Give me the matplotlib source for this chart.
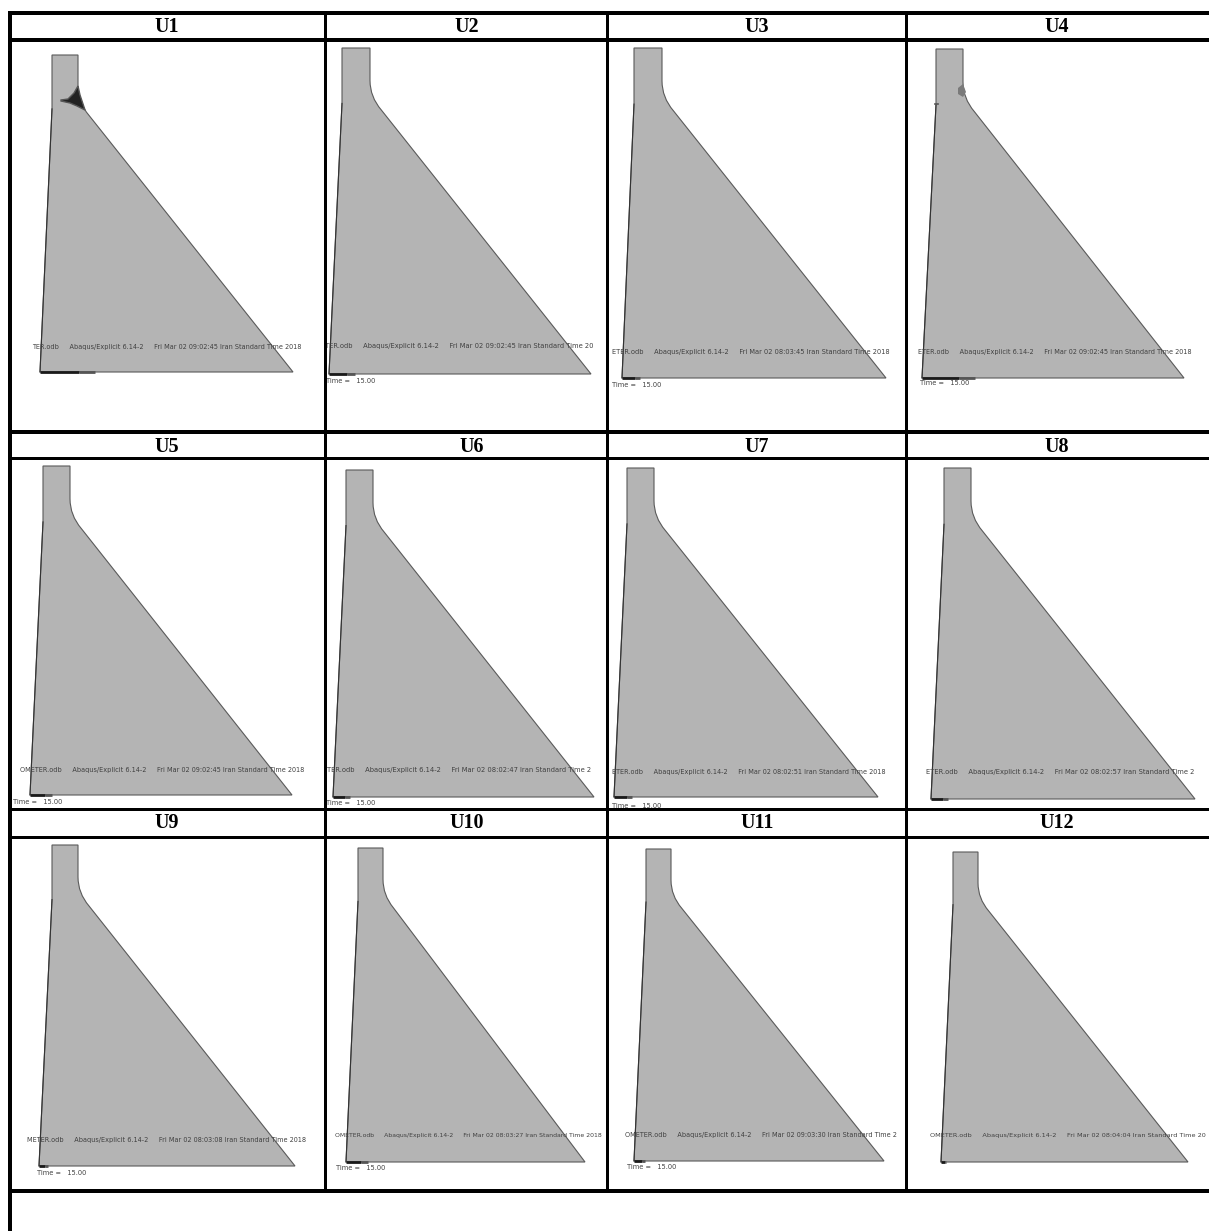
import matplotlib
matplotlib.use("Agg")
import matplotlib.pyplot as plt
from matplotlib.patches import Rectangle
from matplotlib.path import Path
from matplotlib.patches import PathPatch

W, H = 1209, 1231
labels = ["U1","U2","U3","U4","U5","U6","U7","U8","U9","U10","U11","U12"]
label_x = [167,467,757,1057,167,472,757,1057,167,467,757,1057]
label_y = [27,27,27,27,447,447,447,447,823,823,823,823]

crest_left  = [52,342,634,936,43,346,627,944,52,358,646,953]
crest_right = [78,370,662,963,70,373,654,971,78,383,671,978]
crest_y     = [55,48,48,49,466,470,468,468,845,848,849,852]
base_left   = [40,329,622,922,30,333,614,931,39,346,634,941]
base_right  = [293,591,886,1184,292,594,878,1195,295,585,884,1188]
base_y      = [372,374,378,378,795,797,797,799,1166,1162,1161,1162]
base_bar    = [95,355,640,975,52,350,632,948,48,368,645,946]

cell_left  = [12,327,609,908,12,327,609,908,12,327,609,908]
cell_right = [324,606,905,1209,324,606,905,1209,324,606,905,1209]

gap = "     "
stamp = [gap.join(p) for p in [
    ("TER.odb", "Abaqus/Explicit 6.14-2", "Fri Mar 02 09:02:45 Iran Standard Time 2018"),
    ("TER.odb", "Abaqus/Explicit 6.14-2", "Fri Mar 02 09:02:45 Iran Standard Time 20"),
    ("ETER.odb", "Abaqus/Explicit 6.14-2", "Fri Mar 02 08:03:45 Iran Standard Time 2018"),
    ("ETER.odb", "Abaqus/Explicit 6.14-2", "Fri Mar 02 09:02:45 Iran Standard Time 2018"),
    ("OMETER.odb", "Abaqus/Explicit 6.14-2", "Fri Mar 02 09:02:45 Iran Standard Time 2018"),
    ("TER.odb", "Abaqus/Explicit 6.14-2", "Fri Mar 02 08:02:47 Iran Standard Time 2"),
    ("ETER.odb", "Abaqus/Explicit 6.14-2", "Fri Mar 02 08:02:51 Iran Standard Time 2018"),
    ("ETER.odb", "Abaqus/Explicit 6.14-2", "Fri Mar 02 08:02:57 Iran Standard Time 2"),
    ("METER.odb", "Abaqus/Explicit 6.14-2", "Fri Mar 02 08:03:08 Iran Standard Time 2018"),
    ("OMETER.odb", "Abaqus/Explicit 6.14-2", "Fri Mar 02 08:03:27 Iran Standard Time 2018"),
    ("OMETER.odb", "Abaqus/Explicit 6.14-2", "Fri Mar 02 09:03:30 Iran Standard Time 2"),
    ("OMETER.odb", "Abaqus/Explicit 6.14-2", "Fri Mar 02 08:04:04 Iran Standard Time 20"),
]]
stamp_x = [32,325,612,918,20,327,612,926,27,335,625,930]
stamp_y = [347,346,352,352,770,770,772,772,1140,1135,1135,1135]
stamp_size = [4.7,4.9,4.75,4.7,4.7,4.85,4.7,4.9,4.7,4.4,4.7,4.65]

time_text = "Time =   15.00"
time_x = [None,326,612,920,13,326,612,None,37,336,627,None]
time_y = [None,381,385,383,802,803,806,None,1173,1168,1167,None]
time_clip = [None,381,400,384,804,804,808,None,1190,1169,1190,None]

h_rules = [(13,4),(39.5,4),(432,4),(458.5,3),(809,3),(837,3),(1191,4)]
v_rules = [(10,4),(325,3),(607,3),(906,3)]

blob_u1_x = [61,68,74,78,80,85,77,70,61]
blob_u1_y = [100,99,93,86,95,110,106,103,101]
blob_u4_x = [958,963,966,963,958]
blob_u4_y = [88,84,92,97,94]

fig = plt.figure(figsize=(W/100, H/100), dpi=100, facecolor="white")
ax = fig.add_axes([0, 0, 1, 1])
ax.set_xlim(0, W); ax.set_ylim(H, 0); ax.axis("off")

GREY = "#b4b4b4"
EDGE = "#5a5a5a"

for i in range(12):
    cl, cr, top = crest_left[i], crest_right[i], crest_y[i]
    bl, br, by = base_left[i], base_right[i], base_y[i]
    h = by - top; w = br - bl
    neck_y = top + 0.10*h
    knee_x = cr + 0.043*w
    knee_y = top + 0.19*h
    verts = [(cl,top),(cr,top),(cr,neck_y),(cr,top+0.15*h),(knee_x,knee_y),
             (br,by),(bl,by),(cl,top+0.17*h),(cl,top)]
    codes = [Path.MOVETO,Path.LINETO,Path.LINETO,Path.CURVE3,Path.CURVE3,
             Path.LINETO,Path.LINETO,Path.LINETO,Path.CLOSEPOLY]
    ax.add_patch(PathPatch(Path(verts,codes),facecolor=GREY,edgecolor=EDGE,lw=0.8,zorder=2))
    ax.plot([bl,cl],[by,top+0.17*h],color="#333333",lw=0.8,zorder=3)
    bar_end = base_bar[i]
    bar_mid = bl + 0.7*(bar_end-bl)
    ax.plot([bl,bar_mid],[by,by],color="#1a1a1a",lw=2.0,zorder=3,solid_capstyle="butt")
    ax.plot([bar_mid,bar_end],[by,by],color="#555555",lw=2.0,zorder=3,solid_capstyle="butt")

    ax.text(stamp_x[i],stamp_y[i],stamp[i],fontsize=stamp_size[i],color="#404040",
            family="DejaVu Sans",va="center",ha="left",zorder=4)
    if time_x[i] is not None:
        clip2 = Rectangle((cell_left[i],0),cell_right[i]-cell_left[i],time_clip[i],transform=ax.transData)
        t2 = ax.text(time_x[i],time_y[i],time_text,fontsize=4.8,color="#404040",
                     family="DejaVu Sans",va="center",ha="left",zorder=4)
        t2.set_clip_path(clip2)

# dark stress zones
ax.fill(blob_u1_x, blob_u1_y, facecolor="#222222", edgecolor="#555555", zorder=3, lw=1.0)
ax.fill(blob_u4_x, blob_u4_y, color="#7a7a7a", zorder=3, lw=0)
ax.plot([935,938],[104,104],color="#555555",lw=1.2,zorder=3)

for y, lw in h_rules:
    ax.add_patch(Rectangle((8,y-lw/2),W-8,lw,facecolor="black",edgecolor="none",zorder=5))
for x, lw in v_rules:
    ax.add_patch(Rectangle((x-lw/2,12),lw,1181,facecolor="black",edgecolor="none",zorder=5))
ax.add_patch(Rectangle((8,1193),4,H-1193,facecolor="black",edgecolor="none",zorder=5))

for s,x,y in zip(labels,label_x,label_y):
    ax.text(x,y,s,fontsize=14.5,fontweight="bold",family="Liberation Serif",
            ha="center",va="center",color="black",zorder=6)

fig.savefig("out.png",dpi=100)
